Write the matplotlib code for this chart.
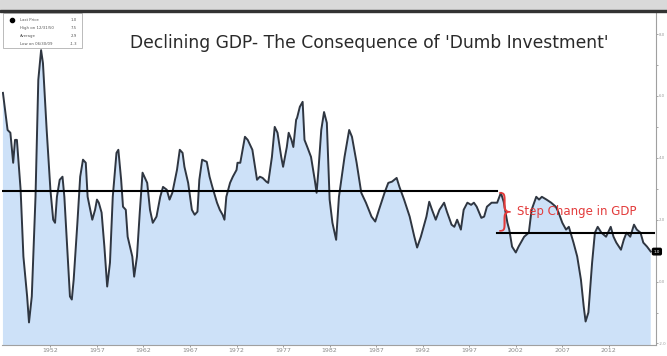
import matplotlib.pyplot as plt
import matplotlib.transforms as mtransforms
from matplotlib.patches import Rectangle

# GDP growth series (decimal year, %)
years = [1946.9, 1947.4, 1947.7, 1948.0, 1948.2, 1948.4, 1948.8, 1949.1, 1949.5, 1949.7,
         1950.0, 1950.4, 1950.7, 1951.0, 1951.2, 1951.6, 1952.0, 1952.3, 1952.5, 1952.7,
         1953.0, 1953.3, 1953.5, 1953.8, 1954.1, 1954.3, 1954.5, 1954.9, 1955.2, 1955.5,
         1955.8, 1956.0, 1956.5, 1956.8, 1957.0, 1957.2, 1957.5, 1957.8, 1958.1, 1958.4,
         1958.7, 1959.1, 1959.3, 1959.6, 1959.8, 1960.1, 1960.3, 1960.8, 1961.0, 1961.3,
         1961.6, 1961.9, 1962.4, 1962.7, 1963.0, 1963.4, 1963.8, 1964.1, 1964.5, 1964.8,
         1965.1, 1965.6, 1965.9, 1966.2, 1966.4, 1966.8, 1967.2, 1967.5, 1967.8, 1968.0,
         1968.3, 1968.8, 1969.1, 1969.4, 1969.9, 1970.2, 1970.5, 1970.7, 1970.9, 1971.3,
         1971.6, 1972.0, 1972.1, 1972.4, 1972.9, 1973.2, 1973.7, 1974.2, 1974.5, 1974.8,
         1975.2, 1975.4, 1975.8, 1976.1, 1976.4, 1976.8, 1977.0, 1977.4, 1977.6, 1977.9,
         1978.1, 1978.4, 1978.5, 1978.8, 1979.1, 1979.3, 1979.6, 1980.0, 1980.4, 1980.6,
         1980.8, 1981.1, 1981.4, 1981.7, 1982.0, 1982.3, 1982.7, 1983.0, 1983.6, 1984.1,
         1984.4, 1984.9, 1985.4, 1985.9, 1986.5, 1986.9, 1987.3, 1987.9, 1988.3, 1988.7,
         1989.2, 1989.5, 1990.0, 1990.6, 1991.1, 1991.4, 1991.8, 1992.4, 1992.7, 1993.0,
         1993.4, 1993.8, 1994.3, 1994.6, 1995.1, 1995.4, 1995.7, 1996.1, 1996.4, 1996.8,
         1997.2, 1997.5, 1997.8, 1998.3, 1998.6, 1998.9, 1999.4, 2000.0, 2000.4, 2000.7,
         2001.1, 2001.3, 2001.6, 2002.0, 2002.3, 2002.9, 2003.4, 2003.7, 2004.2, 2004.5,
         2004.8, 2005.3, 2005.8, 2006.3, 2006.6, 2007.0, 2007.4, 2007.7, 2008.2, 2008.6,
         2009.0, 2009.3, 2009.5, 2009.8, 2010.2, 2010.5, 2010.8, 2011.2, 2011.7, 2012.2,
         2012.5, 2012.8, 2013.3, 2013.6, 2013.9, 2014.3, 2014.7, 2015.0, 2015.4, 2015.7,
         2016.1, 2016.5]
gdp = [6.10, 4.90, 4.81, 3.84, 4.58, 4.58, 2.97, 0.81, -0.48, -1.32,
       -0.48, 2.74, 6.52, 7.48, 7.06, 4.90, 2.97, 2.00, 1.90, 2.74,
       3.29, 3.39, 2.74, 1.13, -0.48, -0.58, 0.06, 1.90, 3.39, 3.94,
       3.84, 2.74, 2.00, 2.32, 2.65, 2.55, 2.23, 1.13, -0.16, 0.61,
       2.74, 4.16, 4.26, 3.29, 2.42, 2.32, 1.45, 0.81, 0.16, 0.81,
       2.23, 3.52, 3.19, 2.32, 1.90, 2.10, 2.74, 3.06, 2.97, 2.65,
       2.87, 3.61, 4.26, 4.16, 3.71, 3.19, 2.32, 2.16, 2.26, 3.29,
       3.94, 3.87, 3.39, 3.06, 2.55, 2.32, 2.16, 2.00, 2.74, 3.19,
       3.39, 3.61, 3.84, 3.84, 4.68, 4.58, 4.26, 3.29, 3.39, 3.35,
       3.23, 3.19, 4.03, 5.00, 4.81, 4.03, 3.71, 4.35, 4.81, 4.58,
       4.35, 5.23, 5.29, 5.65, 5.81, 4.58, 4.35, 4.03, 3.29, 2.87,
       3.61, 4.90, 5.48, 5.13, 2.65, 1.90, 1.35, 2.74, 4.03, 4.90,
       4.68, 3.84, 2.87, 2.55, 2.10, 1.94, 2.32, 2.87, 3.19, 3.23,
       3.35, 3.06, 2.65, 2.10, 1.45, 1.10, 1.45, 2.10, 2.58, 2.32,
       2.00, 2.32, 2.55, 2.26, 1.84, 1.77, 2.00, 1.68, 2.32, 2.55,
       2.48, 2.55, 2.42, 2.06, 2.10, 2.42, 2.55, 2.55, 2.87, 2.58,
       1.90, 1.68, 1.13, 0.94, 1.13, 1.45, 1.58, 2.32, 2.74, 2.65,
       2.74, 2.65, 2.55, 2.42, 2.23, 1.90, 1.68, 1.77, 1.26, 0.81,
       0.06, -0.81, -1.29, -1.00, 0.61, 1.58, 1.77, 1.58, 1.45, 1.77,
       1.45, 1.26, 1.03, 1.35, 1.58, 1.45, 1.84, 1.68, 1.58, 1.26,
       1.13, 0.97]

avg_before = 2.94   # long-run average up to 2000
avg_after = 1.58    # average since 2000
step_year = 2000.0
right_ticks = [-2, 0, 2, 4, 6, 8]
bottom_ticks = list(range(1952, 2013, 5))
legend_rows = [("Last Price", "1.0"), ("High on 12/31/50", "7.5"),
               ("Average", "2.9"), ("Low on 06/30/09", "-1.3")]

fig = plt.figure(figsize=(6.67, 3.56), dpi=100)
fig.patches.append(Rectangle((0, 0.972), 1, 0.028, transform=fig.transFigure,
                             color="#d9d9d9", zorder=0))
fig.patches.append(Rectangle((0, 0.966), 1, 0.007, transform=fig.transFigure,
                             color="#333333", zorder=1))

ax = fig.add_axes([0.003, 0.03, 0.981, 0.936])
ax.fill_between(years, gdp, -5, color="#cde1f8", lw=0)
ax.plot(years, gdp, color="#2f3641", lw=1.4)

ax.plot([1946.8, step_year], [avg_before, avg_before], color="black", lw=1.5)
ax.plot([step_year, 2016.8], [avg_after, avg_after], color="black", lw=1.5)

ax.text(2000.9, (avg_before + avg_after) / 2, "}", color="#e33b3b",
        fontsize=31, ha="center", va="center", fontweight="light")
ax.text(2002.1, 2.26, "Step Change in GDP", color="#e33b3b", fontsize=8.5,
        ha="left", va="center")

ax.text(0.561, 0.907, "Declining GDP- The Consequence of 'Dumb Investment'",
        transform=ax.transAxes, ha="center", va="center", fontsize=12.3,
        color="#2a2a2a")

# small Bloomberg-style legend box
ax.add_patch(Rectangle((0.001, 0.892), 0.122, 0.106, transform=ax.transAxes,
                       fc="white", ec="#b0b0b0", lw=0.6, zorder=5))
for i, (name, val) in enumerate(legend_rows):
    yy = 0.975 - i * 0.024
    ax.text(0.028, yy, name, transform=ax.transAxes, fontsize=2.8,
            color="#555555", va="center", zorder=6)
    ax.text(0.115, yy, val, transform=ax.transAxes, fontsize=2.8,
            color="#555555", va="center", ha="right", zorder=6)
ax.plot([0.015], [0.975], "o", color="black", ms=3, transform=ax.transAxes,
        zorder=6)

# last price tag on the right axis
trans = mtransforms.blended_transform_factory(ax.transAxes, ax.transData)
ax.text(0.996, gdp[-1], "1.0", transform=trans, fontsize=3, color="white",
        ha="left", va="center",
        bbox=dict(boxstyle="round,pad=0.3", fc="black", ec="black"),
        clip_on=False, zorder=7)

ax.set_xlim(1946.8, 2017.1)
ax.set_ylim(-2.06, 8.71)
ax.yaxis.tick_right()
ax.set_yticks(right_ticks)
ax.set_yticks([-1, 1, 3, 5, 7], minor=True)
ax.set_yticklabels([f"{t:.1f}" for t in right_ticks])
ax.tick_params(axis="y", which="both", length=1.5, width=0.6, colors="#9a9a9a",
               labelsize=2.8, pad=0.5)
ax.set_xticks(bottom_ticks)
ax.set_xticklabels([str(t) for t in bottom_ticks])
ax.tick_params(axis="x", length=1.5, width=0.6, colors="#8a8a8a",
               labelsize=4.5, pad=0.5)
for side in ["top", "left"]:
    ax.spines[side].set_visible(False)
ax.spines["right"].set_color("#a0a0a0")
ax.spines["bottom"].set_color("#a0a0a0")
ax.spines["right"].set_linewidth(0.8)
ax.spines["bottom"].set_linewidth(0.8)

fig.savefig("out.png", dpi=100)
